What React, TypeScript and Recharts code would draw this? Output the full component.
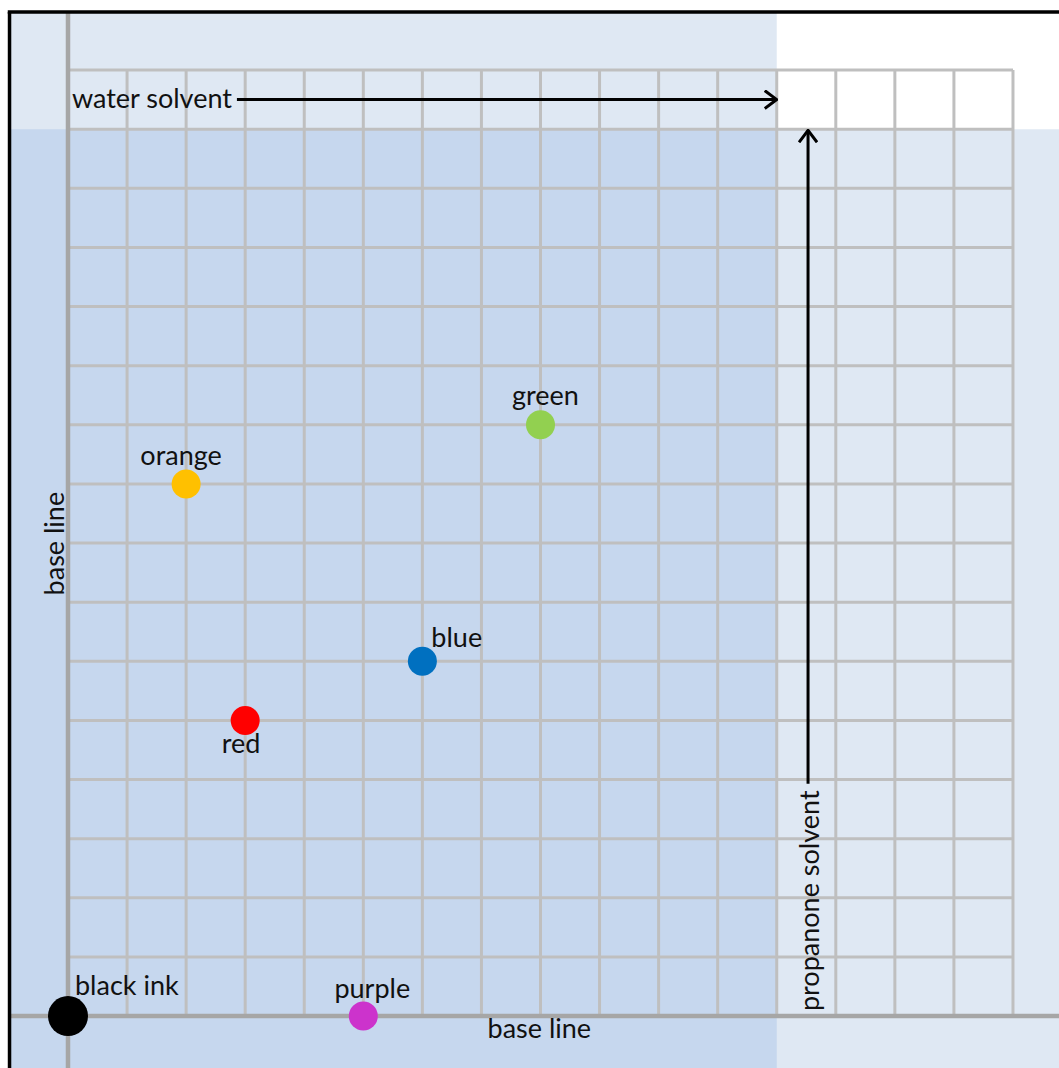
import React from 'react';
import {
  ScatterChart,
  Scatter,
  XAxis,
  YAxis,
  ReferenceLine,
  ReferenceArea,
} from 'recharts';

// ---- data ----
const inkNames = ['black ink', 'purple', 'red', 'blue', 'orange', 'green'];
const inkX = [0, 5, 3, 6, 2, 8];
const inkY = [0, 0, 5, 6, 9, 10];
const gridTicks = [0, 1, 2, 3, 4, 5, 6, 7, 8, 9, 10, 11, 12, 13, 14, 15, 16];
const waterFront = 12; // x position the water solvent reached
const propanoneFront = 15; // y position the propanone solvent reached

// ---- styles ----
const inkColors: Record<string, string> = {
  'black ink': '#000000',
  purple: '#cc33cc',
  red: '#ff0000',
  blue: '#0070c0',
  orange: '#ffc000',
  green: '#92d050',
};
const labelPlace: Record<string, { dx: number; dy: number; anchor: 'start' | 'middle' | 'end' }> = {
  'black ink': { dx: 7, dy: -21, anchor: 'start' },
  purple: { dx: 9, dy: -18, anchor: 'middle' },
  red: { dx: -4, dy: 33, anchor: 'middle' },
  blue: { dx: 9, dy: -14, anchor: 'start' },
  orange: { dx: -5, dy: -19, anchor: 'middle' },
  green: { dx: 5, dy: -20, anchor: 'middle' },
};

const W = 1059;
const H = 1068;
const X_MIN = -1.1513;
const X_MAX = 16.779;
const Y_MIN = -0.879;
const Y_MAX = 17.184;
const FRAME_X = -0.965;
const FRAME_Y = 16.964;
const FONT = 'Lato, "Open Sans", sans-serif';
const FONT_SIZE = 27;
const TEXT = '#111111';
const GRID = '#bfbfbf';
const BASE = '#a6a6a6';
const LIGHT = '#dfe8f3';
const DARK = '#c6d7ee';

const points = inkNames.map((name, i) => ({ name, x: inkX[i], y: inkY[i] }));

const InkDot = (props: any) => {
  const { cx, cy, payload } = props;
  const name = payload.name as string;
  const p = labelPlace[name];
  const r = name === 'black ink' ? 20 : 14.5;
  return (
    <g>
      <circle cx={cx} cy={cy} r={r} fill={inkColors[name]} />
      <text
        x={cx + p.dx}
        y={cy + p.dy}
        textAnchor={p.anchor}
        fontFamily={FONT}
        fontSize={FONT_SIZE}
        fill={TEXT}
      >
        {name}
      </text>
    </g>
  );
};

const TextLabel = (props: any) => {
  const { viewBox, value, dx = 0, dy = 0, rotate = 0, anchor = 'middle' } = props;
  const x = viewBox.x + dx;
  const y = viewBox.y + dy;
  return (
    <text
      x={x}
      y={y}
      textAnchor={anchor}
      fontFamily={FONT}
      fontSize={FONT_SIZE}
      fill={TEXT}
      transform={rotate ? `rotate(${rotate} ${x} ${y})` : undefined}
    >
      {value}
    </text>
  );
};

export default function App() {
  return (
    <div style={{ position: 'absolute', left: 0, top: 0, width: W, height: H, background: '#fff' }}>
      <svg width={0} height={0} style={{ position: 'absolute' }}>
        <defs>
          <marker
            id="chev"
            viewBox="0 0 14 20"
            refX={13}
            refY={10}
            markerWidth={14}
            markerHeight={20}
            markerUnits="userSpaceOnUse"
            orient="auto"
          >
            <path d="M1,1 L13,10 L1,19" fill="none" stroke="#000" strokeWidth={3} />
          </marker>
        </defs>
      </svg>
      <ScatterChart width={W} height={H} margin={{ top: 0, right: 0, bottom: 0, left: 0 }}>
        <XAxis type="number" dataKey="x" domain={[X_MIN, X_MAX]} allowDataOverflow hide />
        <YAxis type="number" dataKey="y" domain={[Y_MIN, Y_MAX]} allowDataOverflow hide />

        {/* paper backgrounds */}
        <ReferenceArea x1={FRAME_X} x2={waterFront} y1={Y_MIN} y2={FRAME_Y} fill={LIGHT} fillOpacity={1} stroke="none" />
        <ReferenceArea x1={FRAME_X} x2={X_MAX} y1={Y_MIN} y2={propanoneFront} fill={LIGHT} fillOpacity={1} stroke="none" />
        <ReferenceArea x1={FRAME_X} x2={waterFront} y1={Y_MIN} y2={propanoneFront} fill={DARK} fillOpacity={1} stroke="none" />

        {/* grid */}
        {gridTicks.map((t) => (
          <ReferenceLine
            key={`v${t}`}
            segment={[{ x: t, y: 0 }, { x: t, y: 16 }]}
            stroke={GRID}
            strokeWidth={3}
          />
        ))}
        {gridTicks.map((t) => (
          <ReferenceLine
            key={`h${t}`}
            segment={[{ x: 0, y: t }, { x: 16, y: t }]}
            stroke={GRID}
            strokeWidth={3}
          />
        ))}

        {/* base lines */}
        <ReferenceLine segment={[{ x: 0, y: Y_MIN }, { x: 0, y: FRAME_Y }]} stroke={BASE} strokeWidth={4.5} />
        <ReferenceLine segment={[{ x: FRAME_X, y: 0 }, { x: X_MAX, y: 0 }]} stroke={BASE} strokeWidth={4.5} />

        {/* frame */}
        <ReferenceLine segment={[{ x: -0.99, y: Y_MIN }, { x: -0.99, y: 16.98 }]} stroke="#000" strokeWidth={3.5} />
        <ReferenceLine segment={[{ x: -1.02, y: 16.98 }, { x: X_MAX, y: 16.98 }]} stroke="#000" strokeWidth={3.5} />

        {/* solvent arrows */}
        <ReferenceLine
          segment={[{ x: 2.86, y: 15.5 }, { x: 12, y: 15.5 }]}
          stroke="#000"
          strokeWidth={3}
          markerEnd="url(#chev)"
          label={(p: any) => <TextLabel {...p} value="water solvent" dx={-165} dy={8} anchor="start" />}
        />
        <ReferenceLine
          segment={[{ x: 12.53, y: 3.93 }, { x: 12.53, y: 14.98 }]}
          stroke="#000"
          strokeWidth={3}
          markerEnd="url(#chev)"
        />
        <ReferenceLine
          segment={[{ x: 12.72, y: 1.95 }, { x: 12.72, y: 1.95 }]}
          stroke="none"
          label={(p: any) => <TextLabel {...p} value="propanone solvent" rotate={-90} anchor="middle" />}
        />
        <ReferenceLine
          segment={[{ x: 7.98, y: -0.37 }, { x: 7.98, y: -0.37 }]}
          stroke="none"
          label={(p: any) => <TextLabel {...p} value="base line" anchor="middle" />}
        />
        <ReferenceLine
          segment={[{ x: -0.07, y: 7.99 }, { x: -0.07, y: 7.99 }]}
          stroke="none"
          label={(p: any) => <TextLabel {...p} value="base line" rotate={-90} anchor="middle" />}
        />

        <Scatter data={points} isAnimationActive={false} shape={<InkDot />} />
      </ScatterChart>
    </div>
  );
}
